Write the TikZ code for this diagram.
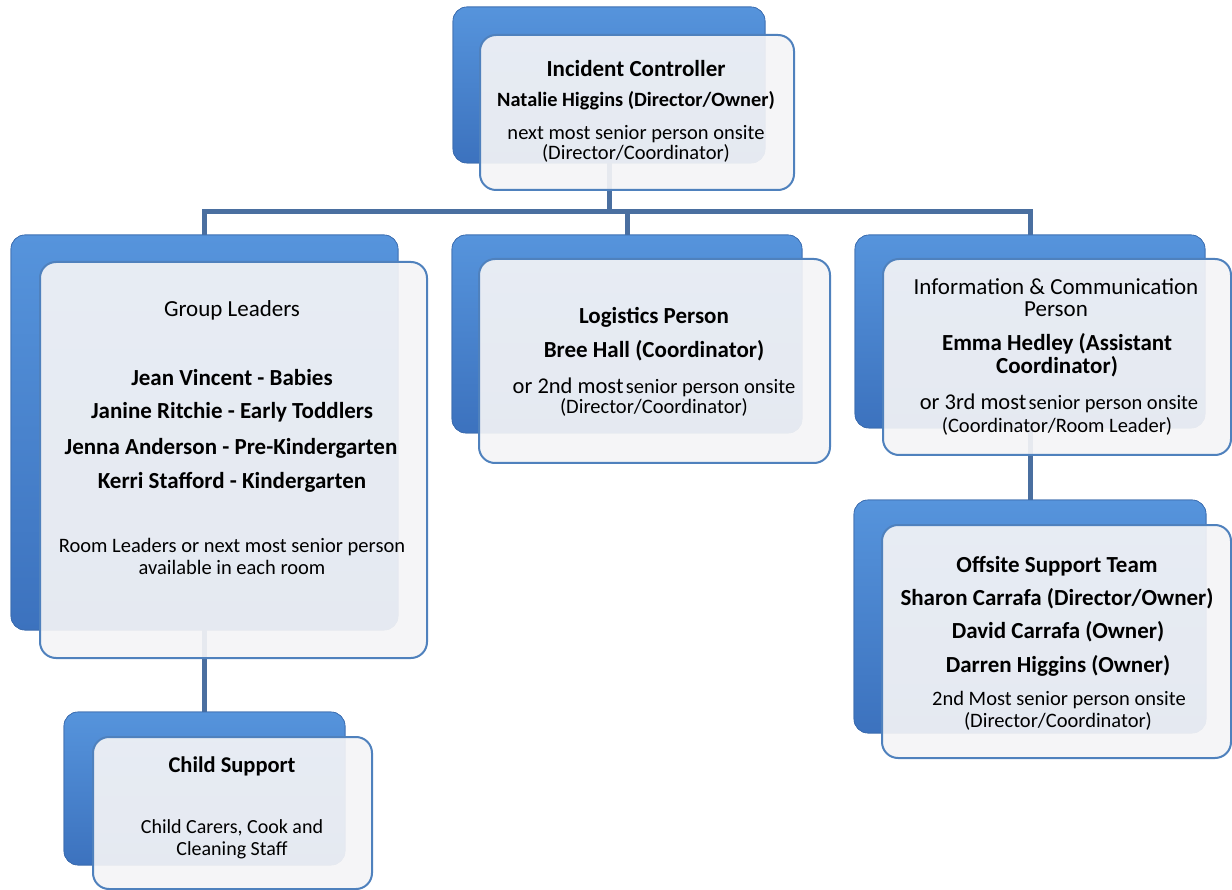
\documentclass[tikz,border=0pt]{standalone}
\usepackage{fontspec}
\setmainfont{Carlito}
\definecolor{bluetop}{RGB}{86,148,220}
\definecolor{bluebot}{RGB}{60,114,190}
\definecolor{blueedge}{RGB}{58,106,172}
\definecolor{frontedge}{RGB}{79,129,189}
\definecolor{frontfill}{RGB}{244,244,246}
\definecolor{connc}{RGB}{74,111,160}
\begin{document}
\begin{tikzpicture}[x=1pt,y=-1pt,
  backbox/.style={rounded corners=14pt, top color=bluetop, bottom color=bluebot,
    draw=blueedge, line width=0.6pt, inner sep=0pt},
  frontbox/.style={rounded corners=16pt, draw=frontedge, line width=2pt,
    fill=frontfill, fill opacity=0.92, inner sep=0pt},
  conn/.style={draw=connc, line width=5pt, line join=miter},
  tx/.style={anchor=base, inner sep=0pt, text=black},
  ttl/.style={tx, font=\bfseries\fontsize{23}{26}\selectfont},
  nm/.style={tx, font=\bfseries\fontsize{23}{26}\selectfont},
  hd/.style={tx, font=\fontsize{23}{26}\selectfont},
  rg/.style={tx, font=\fontsize{20.5}{24}\selectfont}]
\useasboundingbox (0,0) rectangle (1232,890);

% back boxes (named, used by connectors)
\path (609,85) node[backbox, minimum width=312pt, minimum height=156pt] (icB) {};
\path (204.5,432.5) node[backbox, minimum width=387pt, minimum height=395pt] (glB) {};
\path (627,334) node[backbox, minimum width=350pt, minimum height=198pt] (lgB) {};
\path (1030,331.5) node[backbox, minimum width=350pt, minimum height=193pt] (inB) {};
\path (1030,616.5) node[backbox, minimum width=352pt, minimum height=233pt] (ofB) {};
\path (204.5,788.5) node[backbox, minimum width=281pt, minimum height=153pt] (chB) {};

% connectors
\coordinate (hub) at (609,212);
\draw[conn] (icB.south) -- (hub);
\draw[conn] (glB.north) |- (hub) -| (inB.north);
\draw[conn] (lgB.north) -- (lgB.north |- hub);
\draw[conn] (glB.south) -- (chB.north);
\draw[conn] (inB.south) -- (ofB.north);

% back boxes again, above the connector ends
\path (609,85) node[backbox, minimum width=312pt, minimum height=156pt] (icB2) {};
\path (204.5,432.5) node[backbox, minimum width=387pt, minimum height=395pt] (glB2) {};
\path (627,334) node[backbox, minimum width=350pt, minimum height=198pt] (lgB2) {};
\path (1030,331.5) node[backbox, minimum width=350pt, minimum height=193pt] (inB2) {};
\path (1030,616.5) node[backbox, minimum width=352pt, minimum height=233pt] (ofB2) {};
\path (204.5,788.5) node[backbox, minimum width=281pt, minimum height=153pt] (chB2) {};

% front boxes
\path (637,112.5) node[frontbox, minimum width=314pt, minimum height=155pt] (icF) {};
\path (233.5,460) node[frontbox, minimum width=387pt, minimum height=396pt] (glF) {};
\path (654.5,361) node[frontbox, minimum width=351pt, minimum height=204pt] (lgF) {};
\path (1057,357) node[frontbox, minimum width=348pt, minimum height=196pt] (inF) {};
\path (1056.5,641.5) node[frontbox, minimum width=349pt, minimum height=233pt] (ofF) {};
\path (232.5,813) node[frontbox, minimum width=279pt, minimum height=152pt] (chF) {};

% Incident Controller
\node[ttl] (ic1) at (636,77) {Incident Controller};
\node[tx, font=\bfseries\fontsize{20.3}{24}\selectfont] (ic2) at (636,107) {Natalie Higgins (Director/Owner)};
\node[rg] (ic3) at (636,140) {next most senior person onsite};
\node[rg] (ic4) at (636,160) {(Director/Coordinator)};

% Group Leaders
\node[hd] (gl1) at (232,317) {Group Leaders};
\node[nm] (gl2) at (232,386) {Jean Vincent - Babies};
\node[nm] (gl3) at (232,419) {Janine Ritchie - Early Toddlers};
\node[nm] (gl4) at (231,454) {Jenna Anderson - Pre-Kindergarten};
\node[nm] (gl5) at (232,489) {Kerri Stafford - Kindergarten};
\node[rg] (gl6) at (232,552) {Room Leaders or next most senior person};
\node[rg] (gl7) at (232,574) {available in each room};

% Logistics
\node[ttl] (lg1) at (654,324) {Logistics Person};
\node[nm] (lg2) at (654,358) {Bree Hall (Coordinator)};
\node[tx] (lg3) at (654,394) {{\fontsize{22.5}{26}\selectfont or 2nd most} {\fontsize{20.5}{24}\selectfont senior person onsite}};
\node[rg] (lg4) at (654,414) {(Director/Coordinator)};

% Information & Communication
\node[hd] (in1) at (1056,295) {Information \& Communication};
\node[hd] (in2) at (1056,317) {Person};
\node[nm] (in3) at (1057,351) {Emma Hedley (Assistant};
\node[nm] (in4) at (1057,374) {Coordinator)};
\node[tx] (in5) at (1059,410) {{\fontsize{22.5}{26}\selectfont or 3rd most} {\fontsize{20.5}{24}\selectfont senior person onsite}};
\node[rg] (in6) at (1057,433) {(Coordinator/Room Leader)};

% Offsite Support Team
\node[ttl] (of1) at (1057,572) {Offsite Support Team};
\node[nm] (of2) at (1057,605) {Sharon Carrafa (Director/Owner)};
\node[nm] (of3) at (1058,638) {David Carrafa (Owner)};
\node[nm] (of4) at (1058,672) {Darren Higgins (Owner)};
\node[rg] (of5) at (1059,705) {2nd Most senior person onsite};
\node[rg] (of6) at (1058,727) {(Director/Coordinator)};

% Child Support
\node[tx, font=\bfseries\fontsize{22.5}{26}\selectfont] (ch1) at (232,772) {Child Support};
\node[tx, font=\fontsize{20}{24}\selectfont] (ch2) at (232,833) {Child Carers, Cook and};
\node[tx, font=\fontsize{20}{24}\selectfont] (ch3) at (232,855) {Cleaning Staff};
\end{tikzpicture}
\end{document}
